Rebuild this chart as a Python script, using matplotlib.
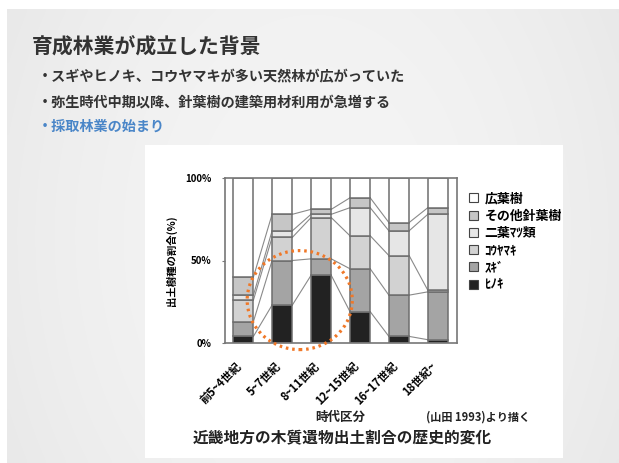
#!/usr/bin/env python3
"""
育成林業が成立した背景 - slide with stacked bar chart.
"""
import numpy as np
import matplotlib
matplotlib.use('Agg')
import matplotlib.pyplot as plt
from matplotlib.patches import Ellipse, Rectangle, Patch
from matplotlib.transforms import ScaledTranslation

plt.rcParams['font.family'] = ['Noto Sans CJK JP', 'DejaVu Sans']

# data: bottom -> top of each stack (%)
periods = ['前5~4世紀', '5~7世紀', '8~11世紀', '12~15世紀', '16~17世紀', '18世紀~']
legend_labels = ['ﾋﾉｷ', 'ｽｷﾞ', 'ｺｳﾔﾏｷ', '二葉ﾏﾂ類', 'その他針葉樹', '広葉樹']
hinoki = [4, 23, 41, 19, 4, 2]
sugi = [9, 27, 10, 26, 25, 29]
kouyamaki = [13, 14, 25, 20, 24, 1]
matsu = [3, 4, 2, 17, 15, 46]
other_conifer = [11, 10, 3, 6, 5, 4]
broadleaf = [60, 22, 19, 12, 27, 18]

title = '育成林業が成立した背景'
bullets = ['・スギやヒノキ、コウヤマキが多い天然林が広がっていた',
           '・弥生時代中期以降、針葉樹の建築用材利用が急増する',
           '・採取林業の始まり']
caption = '近畿地方の木質遺物出土割合の歴史的変化'


def setupFigure():
    fig = plt.figure(figsize=(6.19, 4.63), dpi=100)
    fig.patch.set_facecolor('white')

    # slide background with soft gradient
    bg = fig.add_axes([7 / 619, 0, 1 - 7 / 619, 1 - 9 / 463])
    yy, xx = np.mgrid[-1:1:100j, -1:1:140j]
    grad = 0.955 - 0.035 * (xx ** 2) - 0.01 * (yy ** 2)
    bg.imshow(grad, cmap='gray', vmin=0, vmax=1, aspect='auto',
              extent=[0, 1, 0, 1], interpolation='bilinear')
    bg.set_axis_off()

    # white chart panel
    fig.patches.append(Rectangle((145 / 619, 1 - 458 / 463), (563 - 145) / 619,
                                 (458 - 145) / 463, transform=fig.transFigure,
                                 facecolor='white', edgecolor='none', zorder=1))
    return fig


def drawText(fig):
    fig.text(32 / 619, 1 - 47 / 463, title, fontsize=15, fontweight='bold',
             color='#333333', va='center', ha='left')
    ys = [77, 103, 127]
    colors = ['#333333', '#333333', '#4a86c8']
    for txt, y, c in zip(bullets, ys, colors):
        fig.text(38 / 619, 1 - y / 463, txt, fontsize=10.2, fontweight='bold',
                 color=c, va='center', ha='left')

    fig.text(340 / 619, 1 - 417 / 463, '時代区分', fontsize=9,
             fontweight='bold', ha='center', va='center', color='#222222')
    fig.text(478 / 619, 1 - 417 / 463, '(山田 1993)より描く', fontsize=8,
             fontweight='bold', ha='center', va='center', color='#222222')
    fig.text(342 / 619, 1 - 438 / 463, caption, fontsize=11.3,
             fontweight='bold', ha='center', va='center', color='#222222')


def drawChart(fig):
    ax = fig.add_axes([225 / 619, 1 - 343 / 463, 232 / 619, 165 / 463])
    ax.set_zorder(3)
    ax.set_facecolor('white')

    data = np.array([hinoki, sugi, kouyamaki, matsu, other_conifer, broadleaf])
    fills = ['#222222', '#a4a4a4', '#d2d2d2', '#e6e6e6', '#c6c6c6', 'white']
    x = np.arange(len(periods))
    width = 0.52

    bottom = np.zeros(len(periods))
    handles = []
    for vals, col, lab in zip(data, fills, legend_labels):
        ax.bar(x, vals, width, bottom=bottom, color=col,
               edgecolor='#6e6e6e', linewidth=1.1, zorder=2)
        bottom += vals
        handles.append(Patch(facecolor=col, edgecolor='#444444',
                             linewidth=0.8, label=lab))

    # lines linking segment boundaries between neighbouring bars
    cum = np.cumsum(data, axis=0)[:-1]
    for level in cum:
        for i in range(len(periods) - 1):
            ax.plot([x[i] + width / 2, x[i + 1] - width / 2],
                    [level[i], level[i + 1]], color='#8a8a8a', lw=0.8, zorder=1)

    ax.set_xlim(-0.47, 5.49)
    ax.set_ylim(0, 100)
    ax.set_yticks([0, 50, 100])
    ax.set_yticklabels(['0%', '50%', '100%'], fontsize=7, fontweight='bold')
    ax.tick_params(axis='y', length=2, color='#777777', pad=8)
    ax.set_xticks(x)
    ax.set_xticklabels(periods, rotation=45, ha='right', va='top',
                       rotation_mode='anchor', fontsize=8, fontweight='bold')
    ax.tick_params(axis='x', length=0, pad=12)
    off = ScaledTranslation(-8 / 100, 0, fig.dpi_scale_trans)
    for lbl in ax.get_xticklabels():
        lbl.set_transform(lbl.get_transform() + off)

    ax.set_ylabel('出土樹種の割合(%)', fontsize=7.5, fontweight='bold',
                  labelpad=6)
    for s in ax.spines.values():
        s.set_color('#777777')
        s.set_linewidth(1.2)

    # highlight circle
    circ = Ellipse((1.45, 26), 2.7, 60, facecolor='none', edgecolor='#f07828',
                   linewidth=2.3, linestyle=(0, (0.8, 1.2)), zorder=5,
                   clip_on=False)
    ax.add_patch(circ)

    ax.legend(handles[::-1], legend_labels[::-1], loc='upper left',
              bbox_to_anchor=(1.03, 0.95), frameon=False,
              prop={'size': 9.3, 'weight': 'bold'}, handlelength=0.7,
              handleheight=0.7, handletextpad=0.5, labelspacing=0.25,
              borderaxespad=0)
    return ax


def main():
    fig = setupFigure()
    drawText(fig)
    drawChart(fig)
    fig.savefig('out.png', dpi=100)


if __name__ == "__main__":
    main()
